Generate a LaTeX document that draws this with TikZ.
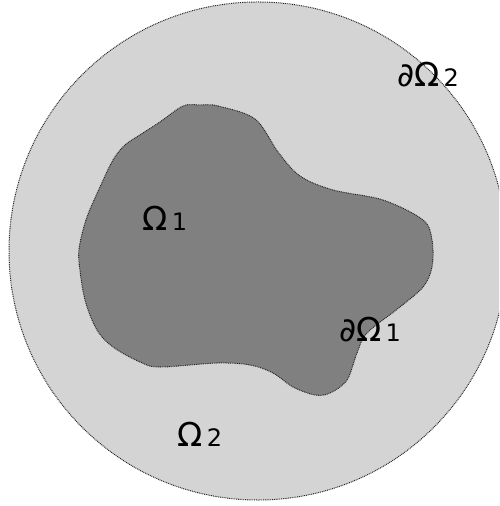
\documentclass[tikz,border=0pt]{standalone}
\usepackage{fontspec}
\setmainfont{DejaVu Sans}
\usepackage{tikz}
\usetikzlibrary{calc}

\tikzset{
  domlabel/.style={font=\fontsize{16.5}{18}\selectfont, inner sep=0pt},
  boundary/.style={draw=black!85, line width=0.5pt, dash pattern=on 0.45pt off 0.45pt}
}
\newcommand{\sub}[1]{\kern2pt{\fontsize{12}{14}\selectfont #1}}

\begin{document}
\begin{tikzpicture}[x=0.5pt,y=-0.5pt]
  % Frame of the picture
  \useasboundingbox (0,0) rectangle (499,506);
  \clip (0,0) rectangle (499,506);

  % Outer domain (disc)
  \coordinate (O) at (258,251);
  \fill[black!17] (O) circle (249);
  \draw[boundary] (O) circle (249);

  % Inner domain (blob)
  \filldraw[fill=black!50, boundary] plot[smooth cycle, tension=0.55] coordinates {
    (200,105) (218,106) (255,119) (278,152) (300,176) (333,190) (383,200)
    (423,220) (432,240) (432,267) (423,287) (400,307) (367,333) (357,353)
    (347,380) (330,393) (315,395) (293,387) (273,373) (250,365) (217,363)
    (160,367) (140,362) (113,347) (97,330) (85,300) (79,262) (80,243)
    (87,217) (100,187) (113,160) (125,145) (143,133) (160,122) (183,106)
  };

  % Labels
  \node[domlabel] (om1)  at (165,218) {Ω\sub{1}};
  \node[domlabel] (dom1) at (370,330) {∂Ω\sub{1}};
  \node[domlabel] (om2)  at (200,434) {Ω\sub{2}};
  \node[domlabel] (dom2) at (428,75)  {∂Ω\sub{2}};
\end{tikzpicture}
\end{document}
